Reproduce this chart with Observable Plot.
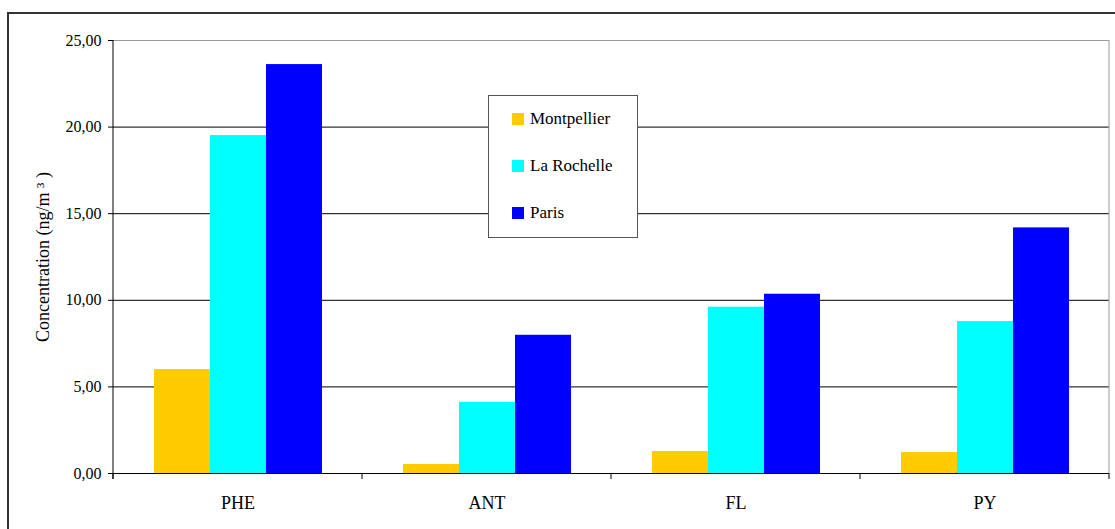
<!DOCTYPE html>
<html>
<head>
<meta charset="utf-8">
<script src="https://cdn.jsdelivr.net/npm/d3@7"></script>
<script src="https://cdn.jsdelivr.net/npm/@observablehq/plot@0.6"></script>
<style>
  body { margin: 0; background: #fff; }
  #wrap { position: relative; width: 1115px; height: 529px; overflow: hidden;
          font-family: "Liberation Serif", "DejaVu Serif", "Times New Roman", serif; }
  #wrap svg { position: absolute; left: 0; top: 0; }
  #wrap svg text { font-family: "Liberation Serif", "DejaVu Serif", "Times New Roman", serif; }
  #border { position: absolute; left: 7px; top: 12px; width: 1300px; height: 700px;
            border-left: 2px solid #333; border-top: 2px solid #333; pointer-events: none; }
  #legend { position: absolute; left: 488px; top: 95px; width: 148px; height: 141px;
            border: 1px solid #555; background: #fff; }
  #legend .row { position: absolute; left: 23px; height: 20px; display: flex; align-items: center;
                 font-size: 17px; color: #000; }
  #legend .sw { width: 12px; height: 12px; margin-right: 6px; }
</style>
</head>
<body>
<div id="wrap"></div>
<script>
// Compounds measured and sampling sites
const categories = ["PHE", "ANT", "FL", "PY"];
const cities = ["Montpellier", "La Rochelle", "Paris"];
const cityColors = ["#FFCC00", "#00FFFF", "#0000FF"];

// Mean concentrations (ng/m3) per compound, one array per site
const montpellier = [6.00, 0.52, 1.27, 1.21];
const laRochelle = [19.51, 4.11, 9.60, 8.77];
const paris = [23.61, 7.98, 10.35, 14.18];

const yTicks = [0, 5, 10, 15, 20, 25];
const yLabel = "Concentration (ng/m \u00B3 )";

const series = [montpellier, laRochelle, paris];
const rows = categories.flatMap((category, i) =>
  cities.map((city, j) => ({category, city, value: series[j][i]}))
);

const frenchDecimal = (v) => v.toFixed(2).replace(".", ",");
const serif = "'Liberation Serif', 'DejaVu Serif', 'Times New Roman', serif";

const W = 1115, H = 529;
const M = {left: 113, right: 6, top: 40, bottom: 56};

const chart = Plot.plot({
  width: W,
  height: H,
  marginLeft: M.left,
  marginRight: M.right,
  marginTop: M.top,
  marginBottom: M.bottom,
  style: {fontFamily: serif, background: "transparent", color: "#000"},
  fx: {domain: categories, paddingInner: 0, paddingOuter: 0},
  x: {domain: cities, paddingInner: 0, paddingOuter: 0.72, axis: null},
  y: {domain: [0, 25], axis: null},
  color: {domain: cities, range: cityColors},
  marks: [
    Plot.ruleY([5, 10, 15, 20], {stroke: "#000", strokeWidth: 1}),
    Plot.barY(rows, {fx: "category", x: "city", y: "value", fill: "city"}),
    Plot.ruleY([25], {stroke: "#999"}),
    Plot.ruleY([0], {stroke: "#000"}),
    // tick labels
    Plot.axisY({
      ticks: yTicks,
      tickFormat: frenchDecimal,
      tickSize: 5,
      tickPadding: 7,
      fontSize: 16,
      fontFamily: serif,
      label: null
    }),
    // axis title
    Plot.axisY({
      ticks: [],
      label: yLabel,
      labelAnchor: "center",
      labelOffset: 77,
      labelArrow: "none",
      fontSize: 18,
      fontFamily: serif
    }),
    Plot.axisFx({anchor: "bottom", tickSize: 0, tickPadding: 23, fontSize: 18, fontFamily: serif, label: null})
  ]
});

// Axis line, right border and the tick marks between compound groups
const fx = chart.scale("fx");
const bottom = H - M.bottom;
const right = W - M.right;
const edges = categories.map((c) => fx.apply(c));
edges.push(fx.apply(categories[categories.length - 1]) + fx.bandwidth);

const g = d3.select(chart).append("g").attr("stroke", "#000");
g.append("line")
  .attr("x1", right).attr("x2", right).attr("y1", M.top).attr("y2", bottom)
  .attr("stroke", "#999");
g.append("line")
  .attr("x1", M.left).attr("x2", M.left).attr("y1", M.top).attr("y2", bottom + 6);
for (const e of edges) {
  g.append("line").attr("x1", e).attr("x2", e).attr("y1", bottom).attr("y2", bottom + 6);
}

const wrap = document.getElementById("wrap");
wrap.appendChild(chart);

const border = document.createElement("div");
border.id = "border";
wrap.appendChild(border);

// Site legend drawn inside the plot area
const legend = document.createElement("div");
legend.id = "legend";
cities.forEach((city, i) => {
  const row = document.createElement("div");
  row.className = "row";
  row.style.top = (13 + i * 47) + "px";
  const sw = document.createElement("span");
  sw.className = "sw";
  sw.style.background = cityColors[i];
  const label = document.createElement("span");
  label.textContent = city;
  row.appendChild(sw);
  row.appendChild(label);
  legend.appendChild(row);
});
wrap.appendChild(legend);
</script>
</body>
</html>
